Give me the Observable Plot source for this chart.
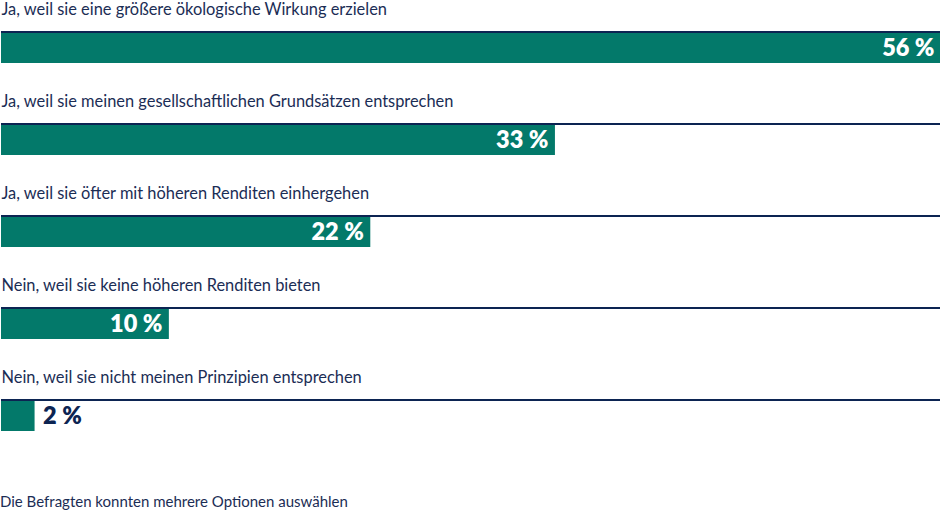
<!DOCTYPE html>
<html>
<head>
<meta charset="utf-8">
<script src="https://cdn.jsdelivr.net/npm/d3@7"></script>
<script src="https://cdn.jsdelivr.net/npm/@observablehq/plot@0.6"></script>
<style>
  html, body { margin: 0; padding: 0; background: #fff; }
  #chart { width: 940px; }
  #foot { font-family: Lato, "Open Sans", sans-serif; font-size: 15px; color: #1b2d55; margin-top: 22px; margin-left: 0px; }
</style>
</head>
<body>
<div id="chart"></div>
<div id="foot"></div>
<script>
const categories = [
  "Ja, weil sie eine größere ökologische Wirkung erzielen",
  "Ja, weil sie meinen gesellschaftlichen Grundsätzen entsprechen",
  "Ja, weil sie öfter mit höheren Renditen einhergehen",
  "Nein, weil sie keine höheren Renditen bieten",
  "Nein, weil sie nicht meinen Prinzipien entsprechen"
];
const values = [56, 33, 22, 10, 2];
const footnote = "Die Befragten konnten mehrere Optionen auswählen";

const data = categories.map((c, i) => ({cat: c, value: values[i]}));
const teal = "#03796a";
const navy = "#0c2452";
const textNavy = "#1b2d55";
const maxV = 56;

const inside = data.filter(d => d.value >= 5);
const outside = data.filter(d => d.value < 5);

const chart = Plot.plot({
  width: 940,
  height: 470,
  marginTop: 0, marginBottom: 0, marginLeft: 0, marginRight: 0,
  x: {domain: [0, maxV], range: [1, 941], axis: null},
  y: {type: "band", domain: categories, range: [30, 431], paddingInner: 0.653, paddingOuter: 0, axis: null},
  marks: [
    Plot.barX(data, {x1: 0, x2: maxV, y: "cat", fill: navy, insetBottom: 30}),
    Plot.barX(data, {x: "value", y: "cat", fill: teal, insetTop: 2}),
    Plot.text(data, {x: 0, y: "cat", text: "cat", textAnchor: "start", dx: 0, dy: -38,
      fill: textNavy, fontSize: 16.4, fontFamily: "Lato, 'Open Sans', sans-serif"}),
    Plot.text(inside, {x: "value", y: "cat", text: d => d.value + " %", textAnchor: "end", dx: -7, dy: 1,
      fill: "white", fontSize: 23.5, fontWeight: 800, fontFamily: "Lato, 'Open Sans', sans-serif"}),
    Plot.text(outside, {x: "value", y: "cat", text: d => d.value + " %", textAnchor: "start", dx: 8, dy: 1,
      fill: navy, fontSize: 23.5, fontWeight: 800, fontFamily: "Lato, 'Open Sans', sans-serif"})
  ]
});
document.getElementById("chart").appendChild(chart);
document.getElementById("foot").textContent = footnote;
</script>
</body>
</html>
